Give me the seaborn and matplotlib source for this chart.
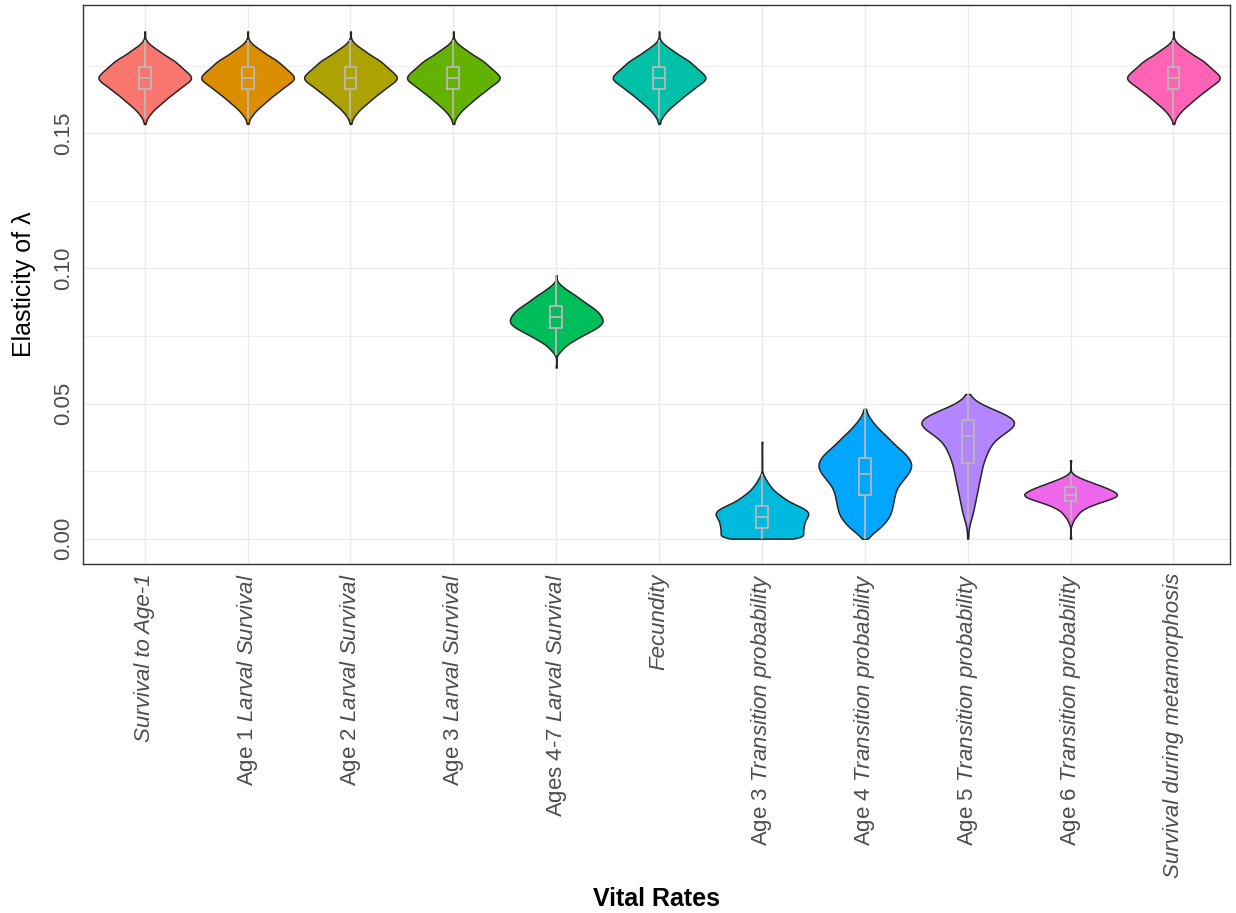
import numpy as np
import pandas as pd
import matplotlib
matplotlib.use("Agg")
import matplotlib.pyplot as plt
from matplotlib.ticker import FixedLocator
import seaborn as sns

# Vital rates (x categories) and their display labels
rates = [
    "Survival to Age-1",
    "Age 1 Larval Survival",
    "Age 2 Larval Survival",
    "Age 3 Larval Survival",
    "Ages 4-7 Larval Survival",
    "Fecundity",
    "Age 3 Transition probability",
    "Age 4 Transition probability",
    "Age 5 Transition probability",
    "Age 6 Transition probability",
    "Survival during metamorphosis",
]
tick_labels = [
    "Survival to Age-1",
    r"$\mathrm{Age\ 1}\ \mathit{Larval\ Survival}$",
    r"$\mathrm{Age\ 2}\ \mathit{Larval\ Survival}$",
    r"$\mathrm{Age\ 3}\ \mathit{Larval\ Survival}$",
    r"$\mathrm{Ages\ 4\text{-}7}\ \mathit{Larval\ Survival}$",
    "Fecundity",
    r"$\mathrm{Age\ 3}\ \mathit{Transition\ probability}$",
    r"$\mathrm{Age\ 4}\ \mathit{Transition\ probability}$",
    r"$\mathrm{Age\ 5}\ \mathit{Transition\ probability}$",
    r"$\mathrm{Age\ 6}\ \mathit{Transition\ probability}$",
    "Survival during metamorphosis",
]
italic_labels = {"Survival to Age-1", "Fecundity", "Survival during metamorphosis"}
rate_colors = ["#F8766D", "#DB8E00", "#AEA200", "#64B200", "#00BD5C", "#00C1A7",
               "#00BADE", "#00A6FF", "#B385FF", "#EF67EB", "#FF63B6"]

# Simulated elasticity distributions, given as value levels and their frequencies
core_levels = [0.1535, 0.1545, 0.1555, 0.1565, 0.1575, 0.1585, 0.1595, 0.1605, 0.1615,
               0.1625, 0.1635, 0.1645, 0.1655, 0.1665, 0.1675, 0.1685, 0.1695, 0.1705,
               0.1715, 0.1725, 0.1735, 0.1745, 0.1755, 0.1765, 0.1775, 0.1785, 0.1795,
               0.1805, 0.1815, 0.1825, 0.1835, 0.1845, 0.1877]
core_counts = [1, 1, 2, 4, 6, 8, 11, 14, 17, 20, 23, 26, 30, 33, 36, 40, 44, 46,
               44, 41, 38, 35, 32, 30, 26, 21, 17, 14, 10, 6, 3, 1, 1]

larval47_levels = [0.0633, 0.068, 0.069, 0.070, 0.071, 0.072, 0.073, 0.074, 0.075, 0.076,
                   0.077, 0.078, 0.079, 0.080, 0.081, 0.082, 0.083, 0.084, 0.085, 0.086,
                   0.087, 0.088, 0.089, 0.090, 0.091, 0.092, 0.093, 0.094, 0.095, 0.0975]
larval47_counts = [1, 1, 3, 6, 8, 11, 16, 20, 25, 30, 35, 40, 44, 46, 46, 45, 43, 41,
                   38, 34, 30, 26, 23, 19, 15, 11, 7, 4, 1, 1]

age3_levels = [0.000, 0.001, 0.002, 0.003, 0.004, 0.005, 0.006, 0.007, 0.008, 0.009,
               0.010, 0.011, 0.012, 0.013, 0.014, 0.015, 0.016, 0.017, 0.018, 0.019,
               0.020, 0.021, 0.022, 0.023, 0.024, 0.0358]
age3_counts = [44, 40, 40, 40, 40, 41, 41, 42, 44, 46, 45, 42, 36, 30, 25, 21, 18,
               14, 11, 9, 7, 5, 4, 2, 1, 1]

age4_levels = [0.000, 0.002, 0.004, 0.006, 0.008, 0.010, 0.012, 0.014, 0.016, 0.018,
               0.020, 0.022, 0.024, 0.026, 0.028, 0.030, 0.032, 0.034, 0.036, 0.038,
               0.040, 0.042, 0.044, 0.046, 0.048]
age4_counts = [1, 8, 15, 20, 24, 26, 27, 28, 29, 30, 33, 38, 42, 46, 46, 43, 38, 31,
               26, 21, 15, 10, 6, 2, 1]

age5_levels = [0.000, 0.004, 0.006, 0.008, 0.010, 0.012, 0.014, 0.016, 0.018, 0.020,
               0.022, 0.024, 0.026, 0.028, 0.030, 0.032, 0.034, 0.036, 0.038, 0.040,
               0.042, 0.044, 0.046, 0.048, 0.050, 0.052, 0.0535]
age5_counts = [1, 1, 2, 4, 5, 6, 7, 8, 9, 10, 11, 12, 13, 14, 16, 18, 20, 23, 29, 37,
               46, 45, 36, 22, 10, 2, 1]

age6_levels = [0.000, 0.005, 0.006, 0.007, 0.008, 0.009, 0.010, 0.011, 0.012, 0.013,
               0.014, 0.015, 0.016, 0.017, 0.018, 0.019, 0.020, 0.021, 0.022, 0.023,
               0.024, 0.029]
age6_counts = [1, 1, 2, 3, 5, 7, 9, 13, 18, 25, 33, 41, 46, 44, 39, 33, 26, 19, 12,
               6, 2, 1]

rate_distributions = {
    "Survival to Age-1": (core_levels, core_counts),
    "Age 1 Larval Survival": (core_levels, core_counts),
    "Age 2 Larval Survival": (core_levels, core_counts),
    "Age 3 Larval Survival": (core_levels, core_counts),
    "Ages 4-7 Larval Survival": (larval47_levels, larval47_counts),
    "Fecundity": (core_levels, core_counts),
    "Age 3 Transition probability": (age3_levels, age3_counts),
    "Age 4 Transition probability": (age4_levels, age4_counts),
    "Age 5 Transition probability": (age5_levels, age5_counts),
    "Age 6 Transition probability": (age6_levels, age6_counts),
    "Survival during metamorphosis": (core_levels, core_counts),
}

frames = []
for rate in rates:
    levels, counts = rate_distributions[rate]
    vals = np.repeat(np.asarray(levels, float), np.asarray(counts, int))
    frames.append(pd.DataFrame({"rate": rate, "elasticity": vals}))
df = pd.concat(frames, ignore_index=True)

sns.set_style("white")
plt.rcParams["font.family"] = ["Liberation Sans", "DejaVu Sans"]
plt.rcParams["mathtext.fontset"] = "custom"
plt.rcParams["mathtext.rm"] = "Liberation Sans"
plt.rcParams["mathtext.it"] = "Liberation Sans:italic"
plt.rcParams["mathtext.bf"] = "Liberation Sans:bold"

W, H = 1236, 913
fig = plt.figure(figsize=(W / 100, H / 100), dpi=100)
left, right, top, bottom = 83, 1230, 5, 564
ax = fig.add_axes([left / W, 1 - bottom / H, (right - left) / W, (bottom - top) / H])

palette = dict(zip(rates, rate_colors))
sns.violinplot(data=df, x="rate", y="elasticity", hue="rate", order=rates,
               hue_order=rates, palette=palette, legend=False, inner=None, cut=0,
               density_norm="width", width=0.9, linewidth=1.1, linecolor="#262626",
               bw_adjust=0.65, saturation=1, ax=ax)
sns.boxplot(data=df, x="rate", y="elasticity", order=rates, fill=False,
            color="#B8B8B8", width=0.115, showfliers=False, showcaps=False,
            linewidth=1.3, saturation=1, ax=ax)

ax.set_xlim(-0.6, 10.55)
ax.set_ylim(-0.0094, 0.1975)

# Grid and frame
ax.set_axisbelow(True)
ax.yaxis.set_major_locator(FixedLocator([0.0, 0.05, 0.10, 0.15]))
ax.yaxis.set_minor_locator(FixedLocator([0.025, 0.075, 0.125, 0.175]))
ax.grid(which="major", color="#EBEBEB", linewidth=1.0)
ax.grid(which="minor", axis="y", color="#EBEBEB", linewidth=0.6)
for sp in ax.spines.values():
    sp.set_visible(True)
    sp.set_color("#333333")
    sp.set_linewidth(1.0)

ax.set_yticklabels(["0.00", "0.05", "0.10", "0.15"], rotation=90, va="center",
                   fontsize=16, color="#4D4D4D")
ax.set_xticks(range(len(rates)))
ax.set_xticklabels(tick_labels, rotation=90, fontsize=16, color="#4D4D4D")
for t, r in zip(ax.get_xticklabels(), rates):
    if r in italic_labels:
        t.set_fontstyle("italic")
ax.tick_params(axis="both", which="major", length=3.5, width=0.9, color="#333333", pad=3)
ax.tick_params(axis="both", which="minor", length=0)

ax.set_xlabel("Vital Rates", fontsize=18, fontweight="bold", color="black")
ax.set_ylabel("Elasticity of λ", fontsize=18, color="black")
ax.xaxis.set_label_coords(0.5, -0.578)
ax.yaxis.set_label_coords(-0.041, 0.5)

fig.savefig("out.png", dpi=100)
